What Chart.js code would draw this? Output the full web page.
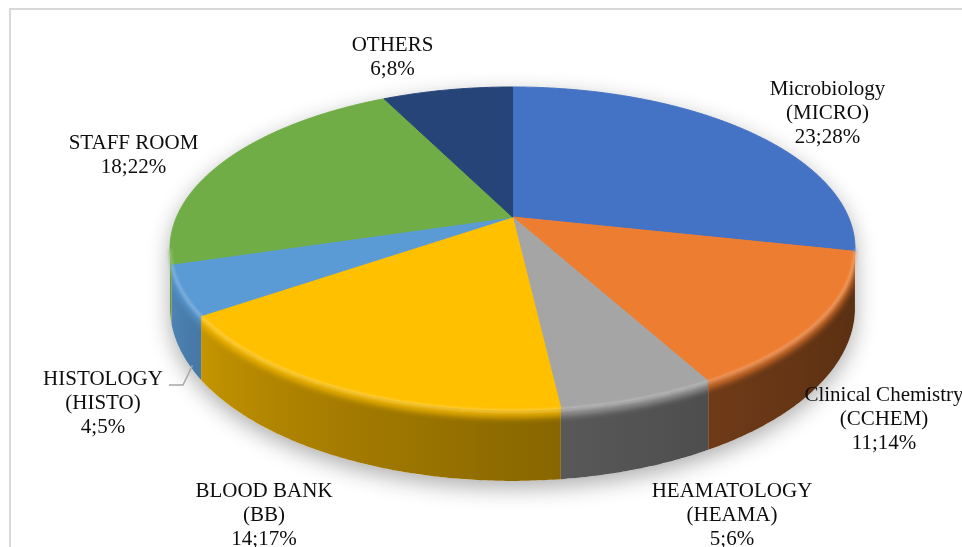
<!DOCTYPE html>
<html>
<head>
<meta charset="utf-8">
<script src="https://cdn.jsdelivr.net/npm/chart.js@4.4.1/dist/chart.umd.min.js"></script>
<style>
  html, body { margin: 0; padding: 0; background: #fff; }
  canvas { display: block; }
</style>
</head>
<body>
<canvas id="chart" width="962" height="547"></canvas>
<script>
// Departments (label lines), counts and the percentages printed beside them
const categories = [
  ['Microbiology', '(MICRO)'],
  ['Clinical Chemistry', '(CCHEM)'],
  ['HEAMATOLOGY', '(HEAMA)'],
  ['BLOOD BANK', '(BB)'],
  ['HISTOLOGY', '(HISTO)'],
  ['STAFF ROOM'],
  ['OTHERS']
];
const counts = [23, 11, 5, 14, 4, 18, 6];
const percentLabels = [28, 14, 6, 17, 5, 22, 8];
const sliceColors = ['#4472C4', '#ED7D31', '#A5A5A5', '#FFC000', '#5B9BD5', '#70AD47', '#264478'];

// Tilted-disc geometry, expressed relative to the radius Chart.js picks
const TILT = { sx: 1.548, sy: 0.716, depth: 0.263, persp: 0.195 };
// Label block centres (x, middle of first line)
const labelAnchors = [[827.5, 89.5], [884, 395.5], [732, 491], [264, 491], [103, 379], [133.5, 143.5], [392.5, 45]];
const LINE_H = 24;
const LABEL_FONT = '21px "Liberation Serif", "Times New Roman", serif';

const TAU = Math.PI * 2;

function hexRgb(h) {
  const n = parseInt(h.slice(1), 16);
  return [(n >> 16) & 255, (n >> 8) & 255, n & 255];
}
function rgbStr(c, k, a) {
  const f = v => Math.max(0, Math.min(255, Math.round(v * k)));
  return a === undefined ? `rgb(${f(c[0])},${f(c[1])},${f(c[2])})` : `rgba(${f(c[0])},${f(c[1])},${f(c[2])},${a})`;
}
function mixWhite(c, t) {
  return `rgb(${c.map(v => Math.round(v + (255 - v) * t)).join(',')})`;
}

// Perspective projection of a point on the disc: th clockwise from 12 o'clock,
// z = 0 on the top face, 1 at the bottom of the side wall, k = radius fraction.
function projector(arc) {
  const r = arc.outerRadius;
  const A = r * TILT.sx, B = r * TILT.sy, H = r * TILT.depth, P = TILT.persp;
  return (th, z, k = 1) => {
    const u = Math.sin(th) * k, v = Math.cos(th) * k;
    const d = 1 + P * v;
    return [arc.x + A * u / d, arc.y - B * v / d + H * z / d];
  };
}

function trace(ctx, proj, a, b, z, move) {
  const n = Math.max(1, Math.ceil(Math.abs(b - a) / (Math.PI / 360)));
  for (let j = 0; j <= n; j++) {
    const p = proj(a + (b - a) * j / n, z);
    if (j === 0 && move) ctx.moveTo(p[0], p[1]); else ctx.lineTo(p[0], p[1]);
  }
}

const frame = {
  id: 'frame',
  beforeDraw(chart) {
    const ctx = chart.ctx;
    ctx.save();
    ctx.fillStyle = '#fff';
    ctx.fillRect(0, 0, chart.width, chart.height);
    ctx.strokeStyle = '#D9D9D9';
    ctx.lineWidth = 2;
    ctx.strokeRect(10, 9, 2000, 2000);
    ctx.restore();
  }
};

const tiltedPie = {
  id: 'tiltedPie',
  beforeDatasetsDraw(chart) {
    const ctx = chart.ctx;
    const arcs = chart.getDatasetMeta(0).data;
    const proj = projector(arcs[0]);
    const P = TILT.persp;
    const t1 = Math.acos(-P), t2 = TAU - t1;   // left/right silhouette angles
    const shade = th => {
      const t = Math.max(0, Math.min(1, (th - t1) / (t2 - t1)));
      return 0.38 + 0.5 * Math.pow(t, 1.5);
    };

    // outline of the whole disc, with a soft drop shadow
    ctx.save();
    ctx.beginPath();
    trace(ctx, proj, t1, t2 - TAU, 0, true);
    trace(ctx, proj, t2, t1, 1, false);
    ctx.closePath();
    ctx.shadowColor = 'rgba(0,0,0,0.32)';
    ctx.shadowBlur = 22;
    ctx.shadowOffsetY = 7;
    ctx.fillStyle = '#fff';
    ctx.fill();
    ctx.restore();

    const xL = proj(t2, 0)[0], xR = proj(t1, 0)[0];

    // side wall of each slice facing the viewer
    arcs.forEach(arc => {
      const s = arc.startAngle + Math.PI / 2, e = arc.endAngle + Math.PI / 2;
      const lo = Math.max(s, t1), hi = Math.min(e, t2);
      if (hi <= lo) return;
      const base = hexRgb(arc.options.backgroundColor);
      const g = ctx.createLinearGradient(xL, 0, xR, 0);
      for (let j = 0; j <= 40; j++) {
        const th = t2 - (t2 - t1) * j / 40;
        const pos = (proj(th, 0)[0] - xL) / (xR - xL);
        g.addColorStop(Math.max(0, Math.min(1, pos)), rgbStr(base, shade(th)));
      }
      ctx.save();
      ctx.beginPath();
      trace(ctx, proj, lo, hi, 0, true);
      trace(ctx, proj, hi, lo, 1, false);
      ctx.closePath();
      ctx.fillStyle = g;
      ctx.fill();
      ctx.clip();
      // bevel highlight running along the rim
      ctx.filter = 'blur(3px)';
      ctx.beginPath();
      trace(ctx, proj, lo - 0.05, hi + 0.05, 0.05, true);
      ctx.strokeStyle = rgbStr(base, 1, 0.85);
      ctx.lineWidth = 8;
      ctx.stroke();
      ctx.restore();
    });

    // top face of each slice
    arcs.forEach(arc => {
      const s = arc.startAngle + Math.PI / 2, e = arc.endAngle + Math.PI / 2;
      const col = arc.options.backgroundColor;
      ctx.save();
      ctx.beginPath();
      ctx.moveTo(arc.x, arc.y);
      trace(ctx, proj, s, e, 0, false);
      ctx.closePath();
      ctx.fillStyle = col;
      ctx.strokeStyle = col;
      ctx.lineWidth = 1;
      ctx.lineJoin = 'round';
      ctx.fill();
      ctx.stroke();
      ctx.restore();
    });

    // light ridge on the front rim
    arcs.forEach(arc => {
      const s = arc.startAngle + Math.PI / 2, e = arc.endAngle + Math.PI / 2;
      const lo = Math.max(s, t1), hi = Math.min(e, t2);
      if (hi <= lo) return;
      const base = hexRgb(arc.options.backgroundColor);
      ctx.save();
      ctx.filter = 'blur(1.5px)';
      ctx.beginPath();
      trace(ctx, proj, lo, hi, 0.015, true);
      ctx.strokeStyle = mixWhite(base, 0.3);
      ctx.lineWidth = 2.5;
      ctx.stroke();
      ctx.restore();
    });

    return false;
  }
};

const sliceLabels = {
  id: 'sliceLabels',
  afterDraw(chart) {
    const ctx = chart.ctx;
    const arcs = chart.getDatasetMeta(0).data;
    const proj = projector(arcs[0]);
    ctx.save();
    ctx.font = LABEL_FONT;
    ctx.fillStyle = '#0d0d0d';
    ctx.textAlign = 'center';
    ctx.textBaseline = 'middle';
    categories.forEach((lines, i) => {
      const all = lines.concat([`${counts[i]};${percentLabels[i]}%`]);
      const [x, y] = labelAnchors[i];
      all.forEach((t, j) => ctx.fillText(t, x, y + j * LINE_H));
    });
    // leader line from the HISTOLOGY label to its slice
    const h = arcs[4];
    const mid = (h.startAngle + h.endAngle) / 2 + Math.PI / 2;
    const end = proj(mid, 1.25, 0.97);
    const lx = labelAnchors[4][0] + 66, ly = labelAnchors[4][1] + 6;
    ctx.strokeStyle = '#A6A6A6';
    ctx.lineWidth = 1.5;
    ctx.beginPath();
    ctx.moveTo(lx, ly);
    ctx.lineTo(lx + 14, ly);
    ctx.lineTo(end[0], end[1]);
    ctx.stroke();
    ctx.restore();
  }
};

new Chart(document.getElementById('chart'), {
  type: 'pie',
  data: {
    labels: categories.map(c => c.join(' ')),
    datasets: [{ data: counts, backgroundColor: sliceColors, borderWidth: 0 }]
  },
  options: {
    responsive: false,
    animation: false,
    layout: { padding: { left: 63, right: 0, top: 0, bottom: 113 } },
    plugins: { legend: { display: false }, tooltip: { enabled: false } }
  },
  plugins: [frame, tiltedPie, sliceLabels]
});
</script>
</body>
</html>
